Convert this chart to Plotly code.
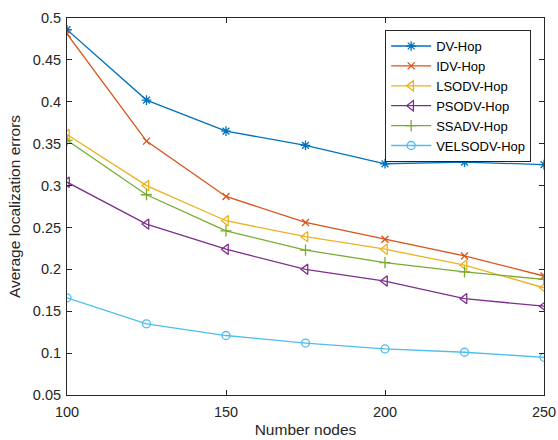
import plotly.graph_objects as go

# Number of nodes deployed in the network
nodes = [100, 125, 150, 175, 200, 225, 250]

# Average localization error per algorithm
dv_hop = [0.486, 0.402, 0.365, 0.348, 0.326, 0.328, 0.325]
idv_hop = [0.481, 0.353, 0.287, 0.256, 0.236, 0.216, 0.192]
lsodv_hop = [0.361, 0.300, 0.258, 0.239, 0.224, 0.205, 0.178]
psodv_hop = [0.304, 0.254, 0.224, 0.200, 0.186, 0.165, 0.156]
ssadv_hop = [0.354, 0.289, 0.246, 0.223, 0.208, 0.197, 0.188]
velsodv_hop = [0.166, 0.135, 0.121, 0.112, 0.105, 0.101, 0.095]

x_ticks = [100, 150, 200, 250]
y_ticks = [0.05, 0.1, 0.15, 0.2, 0.25, 0.3, 0.35, 0.4, 0.45, 0.5]
y_tick_text = ["0.05", "0.1", "0.15", "0.2", "0.25", "0.3", "0.35", "0.4", "0.45", "0.5"]

series = [
    ("DV-Hop", dv_hop, "#0072BD", "asterisk-open", 8),
    ("IDV-Hop", idv_hop, "#D95319", "x-thin-open", 7),
    ("LSODV-Hop", lsodv_hop, "#EDB120", "triangle-left-open", 9),
    ("PSODV-Hop", psodv_hop, "#7E2F8E", "triangle-left-open", 9),
    ("SSADV-Hop", ssadv_hop, "#77AC30", "cross-thin-open", 8),
    ("VELSODV-Hop", velsodv_hop, "#4DBEEE", "circle-open", 8),
]

FONT = "Liberation Sans, Arial, sans-serif"
INK = "#262626"

fig = go.Figure()
for name, vals, color, symbol, size in series:
    fig.add_trace(go.Scatter(
        x=nodes, y=vals, name=name, mode="lines+markers",
        line=dict(color=color, width=1.3),
        marker=dict(symbol=symbol, size=size, color=color,
                    line=dict(color=color, width=1.3)),
    ))

axis_common = dict(
    showline=True, linecolor=INK, linewidth=1, mirror="ticks",
    ticks="inside", ticklen=5, tickcolor=INK,
    showgrid=False, zeroline=False, automargin=False,
    tickfont=dict(family=FONT, size=14.5, color=INK),
)

fig.update_xaxes(
    range=[100, 250], tickvals=x_ticks, ticklabelstandoff=4,
    title=dict(text="Number nodes", standoff=4,
               font=dict(family=FONT, size=15.5, color=INK)),
    **axis_common,
)
fig.update_yaxes(
    range=[0.05, 0.5], tickvals=y_ticks, ticktext=y_tick_text, ticklabelstandoff=2,
    title=dict(text="Average localization errors", standoff=8,
               font=dict(family=FONT, size=15.5, color=INK)),
    **axis_common,
)

fig.update_layout(
    width=558, height=440,
    margin=dict(l=67, r=14, t=18, b=45),
    plot_bgcolor="white", paper_bgcolor="white",
    legend=dict(
        x=0.667, y=0.968, xanchor="left", yanchor="top",
        bgcolor="white", bordercolor=INK, borderwidth=1,
        font=dict(family=FONT, size=13, color="#000000"),
        tracegroupgap=0, itemwidth=40,
    ),
)

fig.write_html("out.html")
